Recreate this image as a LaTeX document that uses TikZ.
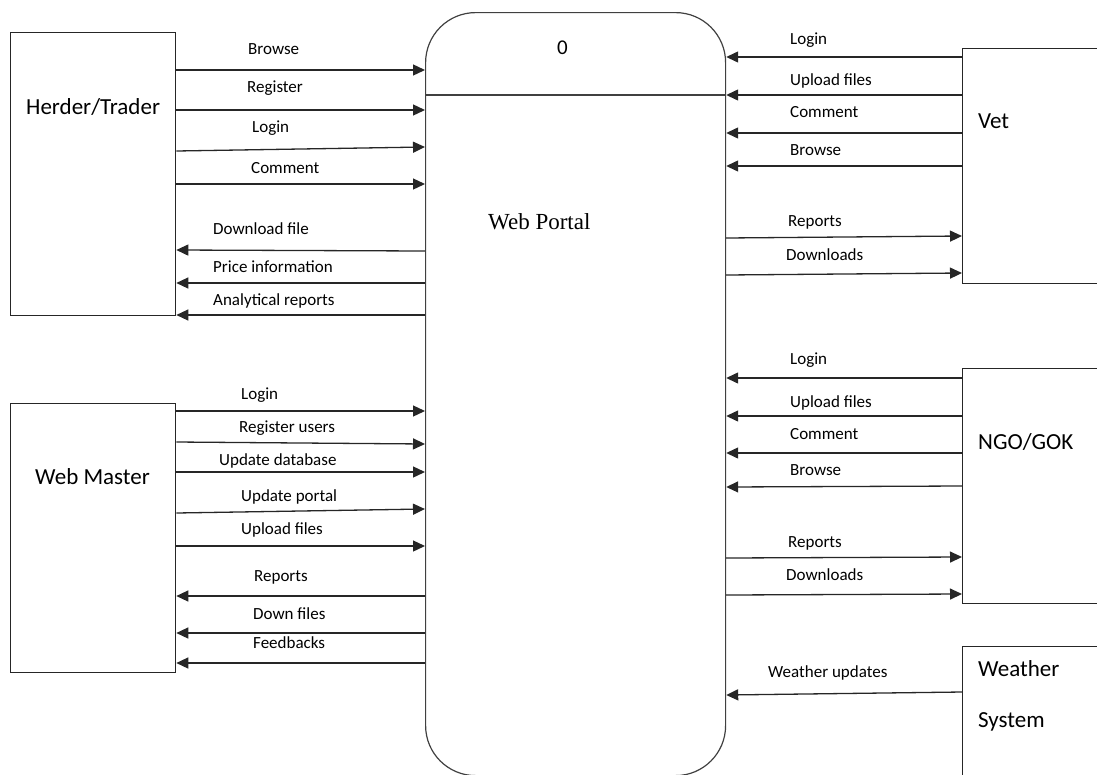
\documentclass[tikz,border=0pt]{standalone}
\usepackage{fontspec}
\setmainfont{Carlito}
\newfontfamily\portalfont{Liberation Serif}
\usepackage{tikz}
\tikzset{
    entity/.style={rectangle,draw=black!85,line width=1.3pt,inner sep=0pt,anchor=north west},
    entitytext/.style={font=\fontsize{23}{27}\selectfont,inner sep=0pt,text height=15pt,text depth=0pt,anchor=west},
    portal/.style={rectangle,draw=black!75,line width=1.2pt,rounded corners=50pt,inner sep=0pt,anchor=north west},
    flowlabel/.style={font=\fontsize{17}{20}\selectfont,inner sep=0pt,text height=11pt,text depth=0pt,anchor=west},
    flow/.style={->,line width=1.3pt,draw=black!85},
}
\usetikzlibrary{arrows.meta}
\usetikzlibrary{positioning}

\begin{document}
\begin{tikzpicture}[x=1pt,y=-1pt,>={Triangle[length=12pt,width=11pt]}]
\useasboundingbox (0,0) rectangle (1097,774);
\clip (0,0) rectangle (1097,774);

% process
\node[portal](wp) at (425,12) [minimum width=300pt,minimum height=763pt] {};
\draw[line width=1.2pt,black!75] (wp.west |- 0,95) -- (wp.east |- 0,95);
\node[flowlabel,font=\fontsize{21}{25}\selectfont,text height=14pt](num) at (557,47) {0};
\node[flowlabel,font=\portalfont\fontsize{23}{27}\selectfont,text height=15pt](wpname) at (488,222) {Web Portal};

% external entities
\node[entity](ht) at (10,32) [minimum width=165pt,minimum height=283pt] {};
\node[entitytext](httext) at (26,107) {Herder/Trader};
\node[entity](wm) at (10,403) [minimum width=165pt,minimum height=269pt] {};
\node[entitytext](wmtext) at (35,477) {Web Master};
\node[entity](vet) at (962,48) [minimum width=160pt,minimum height=235pt] {};
\node[entitytext](vettext) at (978,121) {Vet};
\node[entity](ngo) at (962,368) [minimum width=160pt,minimum height=235pt] {};
\node[entitytext](ngotext) at (978,442) {NGO/GOK};
\node[entity](ws) at (962,646) [minimum width=160pt,minimum height=160pt] {};
\node[entitytext](wstext1) at (978,669) {Weather};
\node[entitytext](wstext2) at (978,720) {System};

% Herder/Trader flows
\draw[flow] (ht.east |- 0,70) -- (wp.west |- 0,70);
\node[flowlabel] at (248,49) {Browse};
\draw[flow] (ht.east |- 0,110) -- (wp.west |- 0,110);
\node[flowlabel] at (247,87) {Register};
\draw[flow] (ht.east |- 0,151) -- (wp.west |- 0,147);
\node[flowlabel] at (252,127) {Login};
\draw[flow] (ht.east |- 0,184) -- (wp.west |- 0,184);
\node[flowlabel] at (251,168) {Comment};
\draw[flow] (wp.west |- 0,251) -- (ht.east |- 0,250);
\node[flowlabel] at (213,229) {Download file};
\draw[flow] (wp.west |- 0,283) -- (ht.east |- 0,283);
\node[flowlabel] at (213,267) {Price information};
\draw[flow] (wp.west |- 0,315) -- (ht.east |- 0,315);
\node[flowlabel] at (213,300) {Analytical reports};

% Web Master flows
\draw[flow] (wm.east |- 0,411) -- (wp.west |- 0,411);
\node[flowlabel] at (241,394) {Login};
\draw[flow] (wm.east |- 0,442) -- (wp.west |- 0,444);
\node[flowlabel] at (239,427) {Register users};
\draw[flow] (wm.east |- 0,472) -- (wp.west |- 0,472);
\node[flowlabel] at (219,460) {Update database};
\draw[flow] (wm.east |- 0,513) -- (wp.west |- 0,509);
\node[flowlabel] at (241,496) {Update portal};
\draw[flow] (wm.east |- 0,546) -- (wp.west |- 0,546);
\node[flowlabel] at (241,529) {Upload files};
\draw[flow] (wp.west |- 0,596) -- (wm.east |- 0,596);
\node[flowlabel] at (254,576) {Reports};
\draw[flow] (wp.west |- 0,633) -- (wm.east |- 0,633);
\node[flowlabel] at (253,614) {Down files};
\draw[flow] (wp.west |- 0,663) -- (wm.east |- 0,663);
\node[flowlabel] at (253,643) {Feedbacks};

% Vet flows
\draw[flow] (vet.west |- 0,57) -- (wp.east |- 0,57);
\node[flowlabel] at (790,39) {Login};
\draw[flow] (vet.west |- 0,95) -- (wp.east |- 0,95);
\node[flowlabel] at (790,80) {Upload files};
\draw[flow] (vet.west |- 0,133) -- (wp.east |- 0,133);
\node[flowlabel] at (790,112) {Comment};
\draw[flow] (vet.west |- 0,166) -- (wp.east |- 0,166);
\node[flowlabel] at (790,150) {Browse};
\draw[flow] (wp.east |- 0,238) -- (vet.west |- 0,236);
\node[flowlabel] at (788,221) {Reports};
\draw[flow] (wp.east |- 0,275) -- (vet.west |- 0,273);
\node[flowlabel] at (786,255) {Downloads};

% NGO/GOK flows
\draw[flow] (ngo.west |- 0,378) -- (wp.east |- 0,378);
\node[flowlabel] at (790,359) {Login};
\draw[flow] (ngo.west |- 0,416) -- (wp.east |- 0,416);
\node[flowlabel] at (790,402) {Upload files};
\draw[flow] (ngo.west |- 0,453) -- (wp.east |- 0,453);
\node[flowlabel] at (790,434) {Comment};
\draw[flow] (ngo.west |- 0,486) -- (wp.east |- 0,487);
\node[flowlabel] at (790,470) {Browse};
\draw[flow] (wp.east |- 0,558) -- (ngo.west |- 0,557);
\node[flowlabel] at (788,542) {Reports};
\draw[flow] (wp.east |- 0,595) -- (ngo.west |- 0,594);
\node[flowlabel] at (786,575) {Downloads};

% Weather System flow
\draw[flow] (ws.west |- 0,692) -- (wp.east |- 0,695);
\node[flowlabel] at (768,672) {Weather updates};
\end{tikzpicture}
\end{document}
